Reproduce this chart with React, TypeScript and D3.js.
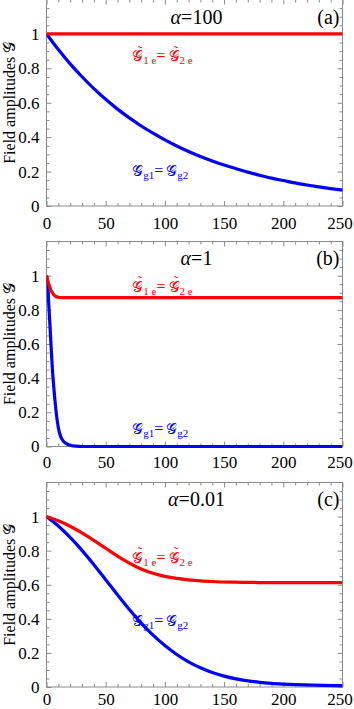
import { useEffect, useRef } from 'react'
import * as d3 from 'd3'

// axis ticks shared by the three panels
const xMajor = [0, 50, 100, 150, 200, 250]
const xMinor = d3.range(0, 251, 10).filter(v => v % 50 !== 0)
const yMajor = [0, 0.2, 0.4, 0.6, 0.8, 1]
const yMinor = [0.05, 0.1, 0.15, 0.25, 0.3, 0.35, 0.45, 0.5, 0.55, 0.65, 0.7, 0.75, 0.85, 0.9, 0.95, 1.05, 1.1, 1.15]
const yLabels = ['0', '0.2', '0.4', '0.6', '0.8', '1']

// (a) alpha = 100
const tA = [0, 10, 20, 30, 40, 50, 60, 70, 80, 90, 100, 110, 120, 130, 140, 150, 160, 170, 180, 190, 200, 210, 220, 230, 240, 250]
const gA = [1, 0.909, 0.826, 0.751, 0.682, 0.62, 0.563, 0.512, 0.465, 0.423, 0.384, 0.349, 0.317, 0.288, 0.262, 0.238, 0.217, 0.197, 0.179, 0.162, 0.148, 0.134, 0.122, 0.111, 0.101, 0.092]
const tAe = [0, 250]
const eA = [1, 1]

// (b) alpha = 1
const tB = [0, 1, 2, 3, 4, 5, 6, 7, 8, 10, 12, 14, 16, 20, 25, 30, 60, 250]
const gB = [1, 0.95, 0.82, 0.7, 0.57, 0.45, 0.36, 0.28, 0.21, 0.11, 0.058, 0.033, 0.02, 0.007, 0.002, 0, 0, 0]
const eB = [1, 0.975, 0.95, 0.93, 0.912, 0.9, 0.89, 0.883, 0.878, 0.874, 0.872, 0.871, 0.871, 0.871, 0.871, 0.871, 0.871, 0.871]

// (c) alpha = 0.01
const tC = [0, 10, 20, 30, 40, 50, 60, 70, 80, 90, 100, 110, 120, 130, 140, 150, 160, 170, 180, 190, 200, 225, 250]
const gC = [1, 0.945, 0.878, 0.802, 0.718, 0.63, 0.541, 0.455, 0.375, 0.304, 0.243, 0.191, 0.148, 0.113, 0.085, 0.064, 0.048, 0.036, 0.027, 0.021, 0.017, 0.011, 0.008]
const eC = [1, 0.975, 0.943, 0.904, 0.86, 0.814, 0.768, 0.727, 0.692, 0.667, 0.649, 0.637, 0.629, 0.623, 0.619, 0.616, 0.615, 0.614, 0.613, 0.612, 0.612, 0.612, 0.612]

const alphaValues = ['100', '1', '0.01']
const tags = ['(a)', '(b)', '(c)']

const panels = [
  { tg: tA, g: gA, te: tAe, e: eA, top: -0.5, bottom: 206, pad: 11, redAt: 0.84, blueAt: 0.174 },
  { tg: tB, g: gB, te: tB, e: eB, top: 241.5, bottom: 446.5, pad: 9.5, redAt: 0.905, blueAt: 0.076 },
  { tg: tC, g: gC, te: tC, e: eC, top: 482.5, bottom: 687, pad: 6, redAt: 0.728, blueAt: 0.357 }
]

const left = 46.5
const right = 342.5
const frameColor = '#8a8a8a'
const serif = '"Liberation Serif", "Times New Roman", Times, serif'
const script = '"DejaVu Serif", "DejaVu Sans", serif'

function Chart() {
  const svgRef = useRef<SVGSVGElement>(null)

  useEffect(() => {
    const svg = d3.select(svgRef.current)
    svg.selectAll('*').remove()

    panels.forEach((p, i) => {
      const x = d3.scaleLinear().domain([0, 250]).range([left, right])
      const y = d3.scaleLinear().domain([0, 1.2]).range([p.bottom, p.top])
      const g = svg.append('g')

      // frame
      g.append('rect')
        .attr('x', left).attr('y', p.top)
        .attr('width', right - left).attr('height', p.bottom - p.top)
        .attr('fill', 'none').attr('stroke', frameColor).attr('stroke-width', 1)

      const tickLines = (sel, axis) => {
        sel.call(axis)
        sel.select('.domain').remove()
        sel.selectAll('line').attr('stroke', frameColor)
      }

      // minor + major ticks on all four sides, pointing inward
      g.append('g').attr('transform', `translate(0,${p.bottom})`)
        .call(s => tickLines(s, d3.axisBottom(x).tickValues(xMinor).tickSize(-3).tickFormat(() => '')))
      g.append('g').attr('transform', `translate(0,${p.top})`)
        .call(s => tickLines(s, d3.axisTop(x).tickValues(xMinor).tickSize(-3).tickFormat(() => '')))
      g.append('g').attr('transform', `translate(0,${p.top})`)
        .call(s => tickLines(s, d3.axisTop(x).tickValues(xMajor).tickSize(-5).tickFormat(() => '')))
      g.append('g').attr('transform', `translate(${left},0)`)
        .call(s => tickLines(s, d3.axisLeft(y).tickValues(yMinor).tickSize(-3).tickFormat(() => '')))
      g.append('g').attr('transform', `translate(${right},0)`)
        .call(s => tickLines(s, d3.axisRight(y).tickValues(yMinor).tickSize(-3).tickFormat(() => '')))
      g.append('g').attr('transform', `translate(${right},0)`)
        .call(s => tickLines(s, d3.axisRight(y).tickValues(yMajor).tickSize(-5).tickFormat(() => '')))

      const xAx = g.append('g').attr('transform', `translate(0,${p.bottom})`)
      tickLines(xAx, d3.axisBottom(x).tickValues(xMajor).tickSize(-5).tickPadding(p.pad).tickFormat(d3.format('d')))
      xAx.selectAll('text')
        .style('font-family', serif).style('font-size', '17px').attr('fill', '#000')
        .attr('dx', d => (d === 250 ? -3 : 0))

      const yAx = g.append('g').attr('transform', `translate(${left},0)`)
      tickLines(yAx, d3.axisLeft(y).tickValues(yMajor).tickSize(-5).tickPadding(7).tickFormat((d, j) => yLabels[j]))
      yAx.selectAll('text').style('font-family', serif).style('font-size', '17px').attr('fill', '#000')

      // curves
      const line = d3.line<[number, number]>()
        .x(d => x(d[0]))
        .y(d => y(d[1]))
        .curve(d3.curveMonotoneX)

      const clipId = `clip-${i}`
      g.append('clipPath').attr('id', clipId)
        .append('rect').attr('x', left).attr('y', p.top)
        .attr('width', right - left).attr('height', p.bottom - p.top + 2)

      g.append('path')
        .datum(p.tg.map((t, j) => [t, p.g[j]] as [number, number]))
        .attr('d', line)
        .attr('fill', 'none').attr('stroke', '#0000ff').attr('stroke-width', 3.2)
        .attr('clip-path', `url(#${clipId})`)

      g.append('path')
        .datum(p.te.map((t, j) => [t, p.e[j]] as [number, number]))
        .attr('d', line)
        .attr('fill', 'none').attr('stroke', '#ff0000').attr('stroke-width', 3.2)
        .attr('clip-path', `url(#${clipId})`)

      // titles
      const title = g.append('text')
        .attr('x', x(125) + 2).attr('y', y(1.06))
        .attr('text-anchor', 'middle')
        .style('font-family', serif).style('font-size', '20px')
      title.append('tspan').style('font-style', 'italic').text('α')
      title.append('tspan').text('=' + alphaValues[i])
      g.append('text')
        .attr('x', right - 3).attr('y', y(1.06))
        .attr('text-anchor', 'end')
        .style('font-family', serif).style('font-size', '20px')
        .text(tags[i])

      // curve labels, laid out piece by piece so the tilde can sit over each G
      const label = (color, yVal, parts, tilde) => {
        let cx = x(72.5)
        const base = y(yVal)
        parts.forEach(([s, kind]) => {
          const t = g.append('text')
            .attr('x', cx).attr('fill', color)
            .style('font-family', kind === 'g' ? script : serif)
            .style('font-size', kind === 'sub' ? '11px' : kind === 'g' ? '15px' : '16px')
            .attr('y', kind === 'sub' ? base + 3 : base)
            .text(s)
          const w = t.node().getComputedTextLength()
          if (kind === 'g' && tilde) {
            g.append('text')
              .attr('x', cx + w / 2 + 2).attr('y', base - 6.5)
              .attr('text-anchor', 'middle').attr('fill', color)
              .style('font-family', serif).style('font-size', '13px')
              .text('˜')
          }
          cx += w + (kind === 'eq' ? 3 : 0)
        })
      }
      label('#ff0000', p.redAt, [['𝒢', 'g'], ['1 e', 'sub'], ['=', 'eq'], ['𝒢', 'g'], ['2 e', 'sub']], true)
      label('#0000ff', p.blueAt, [['𝒢', 'g'], ['g1', 'sub'], ['=', 'eq'], ['𝒢', 'g'], ['g2', 'sub']], false)

      // y axis title
      const mid = (p.top + p.bottom) / 2
      const yt = g.append('text')
        .attr('transform', `translate(15,${mid}) rotate(-90)`)
        .attr('text-anchor', 'middle')
        .style('font-family', serif).style('font-size', '16px')
      yt.append('tspan').text('Field amplitudes ')
      yt.append('tspan').style('font-family', script).text('𝒢')
    })
  }, [])

  return <svg ref={svgRef} width={354} height={709} style={{ display: 'block' }}></svg>
}

export default function App() {
  return (
    <div style={{ position: 'absolute', left: 0, top: 0, width: 354, height: 709, background: '#fff' }}>
      <Chart />
    </div>
  )
}
